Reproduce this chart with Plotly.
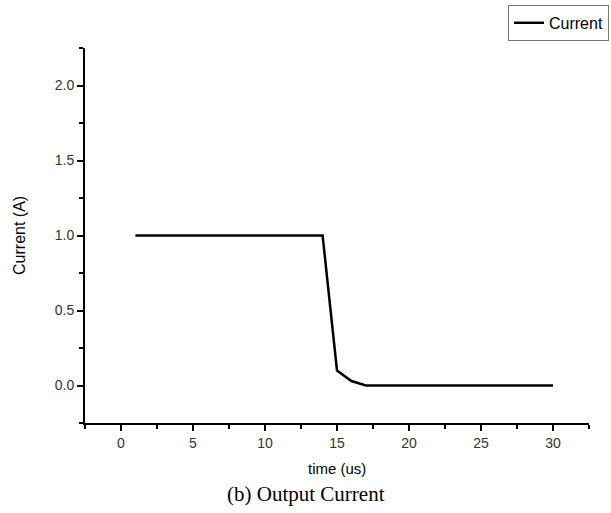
import plotly.graph_objects as go

time_us = [1, 2, 3, 4, 5, 6, 7, 8, 9, 10, 11, 12, 13, 14, 15, 16, 17, 18, 19, 20,
           21, 22, 23, 24, 25, 26, 27, 28, 29, 30]
current_a = [1.0, 1.0, 1.0, 1.0, 1.0, 1.0, 1.0, 1.0, 1.0, 1.0, 1.0, 1.0, 1.0, 1.0,
             0.1, 0.03, 0.0, 0.0, 0.0, 0.0, 0.0, 0.0, 0.0, 0.0, 0.0, 0.0, 0.0, 0.0, 0.0, 0.0]
x_ticks = [0, 5, 10, 15, 20, 25, 30]
y_ticks = [0.0, 0.5, 1.0, 1.5, 2.0]
y_tick_labels = ["0.0", "0.5", "1.0", "1.5", "2.0"]

fig = go.Figure()
fig.add_trace(go.Scatter(x=time_us, y=current_a, mode="lines", name="Current",
                         line=dict(color="black", width=2.5)))

sans = "Liberation Sans, Arial, sans-serif"
axis_font = dict(family=sans, size=14, color="#333333")
fig.update_layout(
    width=611, height=513,
    margin=dict(l=85, r=22, t=48, b=90, autoexpand=False),
    paper_bgcolor="white", plot_bgcolor="white",
    showlegend=True,
    legend=dict(x=1.0397, y=1.115, xanchor="right", yanchor="top",
                bordercolor="#777777", borderwidth=1, bgcolor="white",
                font=dict(family=sans, size=16, color="black"),
                tracegroupgap=0, itemwidth=30),
    xaxis=dict(range=[-2.5, 32.5], tickvals=x_ticks, showgrid=False, zeroline=False,
               showline=True, linecolor="black", linewidth=2, automargin=False,
               ticks="outside", ticklen=6, tickwidth=1.5, tickcolor="black",
               tickfont=axis_font,
               minor=dict(dtick=2.5, ticks="outside", ticklen=4, tickwidth=1.5, tickcolor="black", showgrid=False)),
    yaxis=dict(range=[-0.25, 2.25], tickvals=y_ticks, ticktext=y_tick_labels, showgrid=False, zeroline=False,
               showline=True, linecolor="black", linewidth=2, automargin=False,
               ticks="outside", ticklen=6, tickwidth=1.5, tickcolor="black",
               tickfont=axis_font,
               minor=dict(dtick=0.25, tick0=0, ticks="outside", ticklen=4, tickwidth=1.5, tickcolor="black", showgrid=False)),
    annotations=[
        dict(text="time (us)", xref="paper", yref="paper", x=0.5, y=-0.12,
             xanchor="center", yanchor="middle", showarrow=False,
             font=dict(family=sans, size=15, color="black")),
        dict(text="Current (A)", xref="paper", yref="paper", x=-0.13, y=0.5, textangle=-90,
             xanchor="center", yanchor="middle", showarrow=False,
             font=dict(family=sans, size=16, color="black")),
        dict(text="(b) Output Current", xref="paper", yref="paper",
             x=0.438, y=-0.19, xanchor="center", yanchor="middle", showarrow=False,
             font=dict(family="Liberation Serif, Times New Roman, serif", size=21, color="black")),
    ],
)

fig.write_html("out.html", config={"displayModeBar": False},
               post_script="document.body.style.margin='0';document.body.style.overflow='hidden';")
